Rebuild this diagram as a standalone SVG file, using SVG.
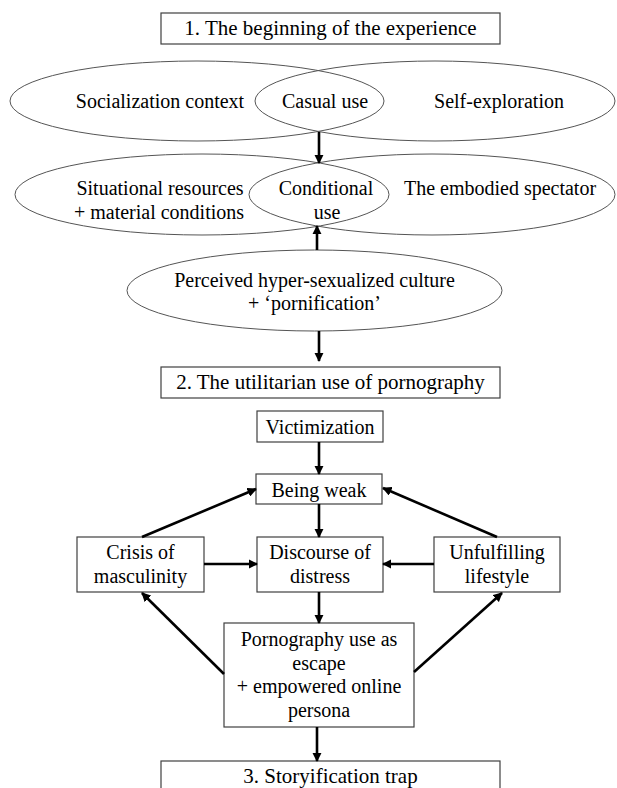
<svg xmlns="http://www.w3.org/2000/svg" width="617" height="788" viewBox="0 0 617 788">
<style>
text{font-family:"Liberation Serif","Times New Roman",serif;font-size:20px;fill:#000;text-anchor:middle}
.h{font-size:21px}
.box{fill:#fff;stroke:#404040;stroke-width:1.2}
.ell{fill:none;stroke:#555;stroke-width:1}
.c{stroke:#000;stroke-width:2.6;fill:none;marker-end:url(#ah)}
</style>
<defs>
<marker id="ah" viewBox="0 0 10 10" refX="9" refY="5" markerWidth="3.6" markerHeight="3.6" orient="auto" markerUnits="strokeWidth">
<path d="M0,0 L10,5 L0,10 z" fill="#000"/>
</marker>
</defs>
<rect width="617" height="788" fill="#fff"/>
<g id="stage1"><rect class="box" x="161" y="13" width="339" height="31"/><text class="h" x="330.5" y="35">1. The beginning of the experience</text></g>
<g id="venn1">
<ellipse class="ell" cx="197" cy="101" rx="187" ry="40"/>
<ellipse class="ell" cx="435" cy="101" rx="180" ry="40"/>
<text x="160" y="108">Socialization context</text>
<text x="325" y="108">Casual use</text>
<text x="499" y="108">Self-exploration</text>
</g>
<g id="venn2">
<ellipse class="ell" cx="202" cy="194.5" rx="187" ry="40.5"/>
<ellipse class="ell" cx="432" cy="194.5" rx="183" ry="40.5"/>
<text x="160" y="195">Situational resources</text>
<text x="159" y="219">+ material conditions</text>
<text x="326" y="195">Conditional</text>
<text x="327" y="219">use</text>
<text x="500" y="195">The embodied spectator</text>
</g>
<g id="culture">
<ellipse class="ell" cx="314.5" cy="290.5" rx="187.5" ry="40.5"/>
<text x="314.5" y="287">Perceived hyper-sexualized culture</text>
<text x="314.5" y="310">+ ‘pornification’</text>
</g>
<g id="stage2"><rect class="box" x="161" y="367" width="339" height="31"/><text class="h" x="330.5" y="389">2. The utilitarian use of pornography</text></g>
<g id="victimization"><rect class="box" x="257" y="411" width="126" height="31"/><text x="320" y="434">Victimization</text></g>
<g id="weak"><rect class="box" x="256" y="474" width="126" height="30"/><text x="319" y="497">Being weak</text></g>
<g id="distress"><rect class="box" x="257" y="537" width="126" height="55"/><text x="320" y="559">Discourse of</text><text x="320" y="583">distress</text></g>
<g id="crisis"><rect class="box" x="77" y="537" width="127" height="55"/><text x="140.5" y="559">Crisis of</text><text x="140.5" y="583">masculinity</text></g>
<g id="lifestyle"><rect class="box" x="434" y="537" width="126" height="55"/><text x="497" y="559">Unfulfilling</text><text x="497" y="583">lifestyle</text></g>
<g id="escape"><rect class="box" x="224" y="623" width="190" height="104"/>
<text x="319" y="646">Pornography use as</text><text x="319" y="669.5">escape</text><text x="319" y="693">+ empowered online</text><text x="319" y="716.5">persona</text></g>
<g id="stage3"><rect class="box" x="161" y="761" width="339" height="40"/><text class="h" x="330.5" y="783">3. Storyification trap</text></g>
<g id="connectors">
<line class="c" x1="319" y1="132" x2="319" y2="163"/>
<line class="c" x1="317" y1="250" x2="317" y2="226"/>
<line class="c" x1="319" y1="331" x2="319" y2="361"/>
<line class="c" x1="319" y1="442" x2="319" y2="474"/>
<line class="c" x1="319" y1="504" x2="319" y2="537"/>
<line class="c" x1="142" y1="537" x2="256" y2="489"/>
<line class="c" x1="497" y1="537" x2="383" y2="488"/>
<line class="c" x1="204" y1="564" x2="257" y2="564"/>
<line class="c" x1="434" y1="564" x2="383" y2="564"/>
<line class="c" x1="319" y1="592" x2="319" y2="623"/>
<line class="c" x1="224" y1="674" x2="142" y2="593"/>
<line class="c" x1="414" y1="672" x2="502" y2="593"/>
<line class="c" x1="317" y1="727" x2="317" y2="761"/>
</g>
</svg>
